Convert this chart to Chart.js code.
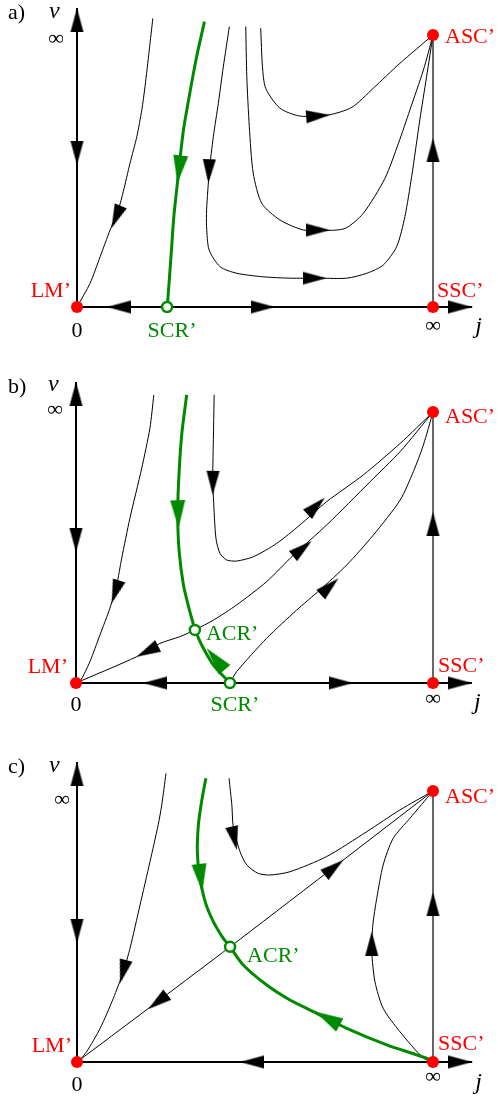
<!DOCTYPE html>
<html lang="en">
<head>
<meta charset="UTF-8">
<title>Phase portraits a) b) c)</title>
<script src="https://cdn.jsdelivr.net/npm/chart.js"></script>
<style>
  body { margin: 0; background: #fff; }
  .page { position: relative; width: 498px; height: 1100px; }
  .page canvas { position: absolute; left: 0; }
</style>
</head>
<body>
<div class="page">
  <canvas id="panelA" width="498" height="370" style="top:0"></canvas>
  <canvas id="panelB" width="498" height="370" style="top:370px"></canvas>
  <canvas id="panelC" width="498" height="360" style="top:740px"></canvas>
</div>
<script>
// compactified coordinates: j and v mapped to [0, 1], 1 means infinity

// ---- panel a ----
const aAxisX = 1.110, aAxisY = 1.099;
const aLeft = [[0.213,1.061],[0.203,0.945],[0.191,0.810],[0.182,0.724],[0.168,0.626],[0.149,0.529],[0.130,0.424],[0.116,0.357],[0.093,0.283],[0.065,0.185],[0.037,0.088],[0,0]];
const aSep = [[0.358,1.049],[0.336,0.920],[0.315,0.773],[0.299,0.651],[0.289,0.540],[0.282,0.455],[0.272,0.332],[0.264,0.185],[0.254,0.007],[0.253,0]];
const aLow = [[0.428,1.031],[0.411,0.883],[0.397,0.749],[0.383,0.626],[0.372,0.504],[0.364,0.357],[0.364,0.295],[0.371,0.210],[0.402,0.148],[0.449,0.124],[0.523,0.111],[0.598,0.106],[0.683,0.106],[0.758,0.106],[0.814,0.124],[0.860,0.154],[0.898,0.222],[0.921,0.332],[0.940,0.479],[0.963,0.688],[0.982,0.847],[1,1]];
const aMid = [[0.474,1.031],[0.477,0.847],[0.484,0.663],[0.495,0.492],[0.519,0.381],[0.570,0.320],[0.636,0.283],[0.692,0.281],[0.753,0.289],[0.804,0.344],[0.865,0.473],[0.903,0.602],[0.935,0.724],[0.973,0.871],[1,1]];
const aHigh = [[0.516,1.025],[0.521,0.883],[0.530,0.804],[0.570,0.731],[0.626,0.702],[0.706,0.706],[0.772,0.734],[0.832,0.804],[0.907,0.896],[1,1]];
// arrowheads: tip x, tip y, back x, back y
const aArrows = [[0,1.099,0,1.011],[0,0.522,0,0.610],[1.110,0,1.043,0],[0.084,0,0.152,0],[0.556,0,0.489,0],[1,0.621,1,0.533],
  [0.097,0.290,0.124,0.375],[0.369,0.455,0.372,0.548],[0.701,0.106,0.635,0.106],[0.711,0.283,0.643,0.283],[0.711,0.706,0.643,0.699]];
const aGreenArrows = [[0.282,0.455,0.291,0.551]];
const aSaddles = [[0,0],[1,0],[1,1]];
const aCritical = [[0.253,0]];

// ---- panel b ----
const bAxisX = 1.109, bAxisY = 1.111;
const bLeft = [[0.218,1.063],[0.207,0.940],[0.184,0.792],[0.151,0.608],[0.128,0.460],[0.114,0.362],[0.095,0.276],[0.067,0.177],[0.039,0.079],[0.011,0.005],[0,0]];
const bSep = [[0.310,1.063],[0.296,0.915],[0.287,0.731],[0.285,0.608],[0.289,0.485],[0.301,0.362],[0.319,0.263],[0.333,0.196]];
const bSepLow = [[0.333,0.196],[0.352,0.140],[0.385,0.066],[0.431,0]];
const bUpper = [[0.387,1.063],[0.385,0.915],[0.383,0.755],[0.385,0.682],[0.392,0.534],[0.403,0.479],[0.422,0.454],[0.450,0.450],[0.497,0.466],[0.562,0.515],[0.627,0.583],[0.702,0.669],[0.805,0.768],[0.908,0.884],[1,1]];
const bManifold = [[0,0],[0.170,0.097],[0.235,0.146],[0.291,0.171],[0.333,0.196],[0.385,0.232],[0.450,0.288],[0.534,0.374],[0.609,0.472],[0.702,0.583],[0.824,0.743],[0.908,0.854],[1,1]];
const bLower = [[0.431,0],[0.450,0.042],[0.534,0.165],[0.618,0.269],[0.683,0.343],[0.758,0.435],[0.833,0.546],[0.908,0.675],[0.945,0.780],[0.973,0.878],[1,1]];
const bArrows = [[0,1.111,0,1.022],[0,0.483,0,0.576],[1.109,0,1.042,0],[0.188,0,0.255,0],[0.776,0,0.710,0],[1,0.631,1,0.540],
  [0.100,0.294,0.123,0.387],[0.383,0.694,0.384,0.786],[0.697,0.684,0.641,0.613],[0.170,0.097,0.235,0.140],[0.660,0.524,0.605,0.465],[0.735,0.386,0.678,0.317]];
const bGreenArrows = [[0.287,0.571,0.285,0.672],[0.366,0.128,0.413,0.054]];
const bSaddles = [[0,0],[1,0],[1,1]];
const bCritical = [[0.431,0],[0.333,0.196]];

// ---- panel c ----
const cAxisX = 1.110, cAxisY = 1.107;
const cLeft = [[0.250,1.065],[0.238,0.948],[0.228,0.875],[0.205,0.739],[0.177,0.579],[0.149,0.420],[0.130,0.333],[0.102,0.235],[0.065,0.124],[0.027,0.038],[0.008,0.007],[0,0]];
const cSep = [[0.362,1.047],[0.350,0.961],[0.341,0.875],[0.338,0.776],[0.344,0.690],[0.360,0.592],[0.383,0.518],[0.411,0.456],[0.430,0.425]];
const cSepLow = [[0.430,0.425],[0.467,0.358],[0.533,0.284],[0.598,0.229],[0.664,0.186],[0.758,0.124],[0.870,0.063],[0.982,0.014],[1,0]];
const cUpper = [[0.427,1.047],[0.435,0.948],[0.439,0.868],[0.458,0.776],[0.477,0.727],[0.509,0.696],[0.542,0.690],[0.598,0.702],[0.701,0.758],[0.814,0.850],[0.907,0.930],[1,1]];
const cDiag = [[0,0],[0.430,0.425],[1,1]];
const cRight = [[1,0],[0.973,0.014],[0.907,0.112],[0.860,0.198],[0.837,0.296],[0.828,0.407],[0.831,0.506],[0.842,0.604],[0.860,0.727],[0.888,0.825],[0.935,0.899],[1,1]];
const cArrows = [[0,1.107,0,1.018],[0,0.439,0,0.530],[1.110,0,1.043,0],[0.458,0,0.524,0],[1,0.627,1,0.536],
  [0.121,0.290,0.138,0.376],[0.449,0.782,0.434,0.871],[0.200,0.195,0.265,0.260],[0.748,0.745,0.685,0.680],[0.828,0.481,0.828,0.391]];
const cGreenArrows = [[0.352,0.628,0.343,0.727],[0.669,0.186,0.733,0.140]];
const cSaddles = [[0,0],[1,0],[1,1]];
const cCritical = [[0.430,0.425]];

const RED = '#ff0000';
const GREEN = '#008a00';
const FONT = '"Liberation Serif", "Times New Roman", serif';
const INSET = 8; // layout padding, larger than any point overflow

function pts(list) { return list.map(p => ({ x: p[0], y: p[1] })); }
function heads(list) { return list.map(a => ({ x: a[0], y: a[1], bx: a[2], by: a[3] })); }

// arrowhead image with its tip in the centre, pointing right
function arrowImage(len, half, color) {
  const c = document.createElement('canvas');
  c.width = len * 2;
  c.height = half * 2 + 2;
  const g = c.getContext('2d');
  g.fillStyle = color;
  g.beginPath();
  g.moveTo(0, 1);
  g.lineTo(len, half + 1);
  g.lineTo(0, half * 2 + 1);
  g.closePath();
  g.fill();
  return c;
}
const blackHead = arrowImage(24, 6.5, '#000');
const greenHead = arrowImage(28, 7.5, GREEN);

function arrowAngle(ctx) {
  const r = ctx.raw;
  if (!r) return 0;
  const sx = ctx.chart.scales.x, sy = ctx.chart.scales.y;
  const dx = sx.getPixelForValue(r.x) - sx.getPixelForValue(r.bx);
  const dy = sy.getPixelForValue(r.y) - sy.getPixelForValue(r.by);
  return Math.atan2(dy, dx) * 180 / Math.PI;
}

function drawPanel(id, frame, p) {
  const canvas = document.getElementById(id);
  const W = canvas.width, H = canvas.height;
  const ds = [];
  p.curves.forEach(c => ds.push({ data: pts(c), showLine: true, borderColor: '#000', borderWidth: 1,
    pointRadius: 0, tension: 0.25, order: 6 }));
  ds.push({ data: pts([[0, p.axisY], [0, 0], [p.axisX, 0]]), showLine: true, borderColor: '#000',
    borderWidth: 2, pointRadius: 0, tension: 0, order: 5 });
  ds.push({ data: pts([[1, 0], [1, 1]]), showLine: true, borderColor: '#000', borderWidth: 1.2,
    pointRadius: 0, tension: 0, order: 5 });
  p.green.forEach(c => ds.push({ data: pts(c), showLine: true, borderColor: GREEN, borderWidth: 3,
    pointRadius: 0, tension: 0.25, order: 4 }));
  ds.push({ data: heads(p.arrows), pointStyle: blackHead, pointRotation: arrowAngle, pointRadius: 5, order: 3 });
  ds.push({ data: heads(p.greenArrows), pointStyle: greenHead, pointRotation: arrowAngle, pointRadius: 5, order: 2 });
  ds.push({ data: pts(p.critical), pointStyle: 'circle', pointRadius: 5, pointBorderWidth: 2.5,
    pointBorderColor: GREEN, pointBackgroundColor: '#fff', order: 1 });
  ds.push({ data: pts(p.saddles), pointStyle: 'circle', pointRadius: 6, pointBorderWidth: 0,
    pointBackgroundColor: RED, order: 0 });

  const textPlugin = {
    id: 'panelText',
    afterDatasetsDraw(chart) {
      const g = chart.ctx, sx = chart.scales.x, sy = chart.scales.y;
      p.labels.forEach(t => {
        g.save();
        g.font = (t.italic ? 'italic ' : '') + (t.size || 22) + 'px ' + FONT;
        g.fillStyle = t.color || '#000';
        g.textAlign = t.align || 'left';
        g.fillText(t.text, sx.getPixelForValue(t.at[0]) + t.dx, sy.getPixelForValue(t.at[1]) + t.dy);
        g.restore();
      });
    }
  };

  // chart area is the canvas minus INSET on every side
  const left = frame.ox - INSET, top = frame.oy - INSET;
  const aw = W - 2 * INSET, ah = H - 2 * INSET;
  new Chart(canvas, {
    type: 'scatter',
    data: { datasets: ds },
    options: {
      responsive: false,
      animation: false,
      events: [],
      clip: false,
      layout: { padding: INSET },
      plugins: { legend: { display: false }, tooltip: { enabled: false } },
      scales: {
        x: { type: 'linear', display: false, min: -left / frame.ux, max: (aw - left) / frame.ux },
        y: { type: 'linear', display: false, min: -(ah - top) / frame.uy, max: top / frame.uy }
      }
    },
    plugins: [textPlugin]
  });
}

drawPanel('panelA', { ox: 77, oy: 307, ux: 356, uy: 272 }, {
  axisX: aAxisX, axisY: aAxisY,
  curves: [aLeft, aLow, aMid, aHigh],
  green: [aSep],
  arrows: aArrows, greenArrows: aGreenArrows,
  saddles: aSaddles, critical: aCritical,
  labels: [
    { text: 'a)', at: [0, aAxisY], dx: -69, dy: 11 },
    { text: 'v', at: [0, aAxisY], dx: -28, dy: 10, italic: true, size: 24 },
    { text: '∞', at: [0, aAxisY], dx: -21, dy: 37, align: 'center' },
    { text: 'LM’', at: [0, 0], dx: -6, dy: -10, align: 'right', color: RED },
    { text: '0', at: [0, 0], dx: 0, dy: 30, align: 'center' },
    { text: 'SCR’', at: aCritical[0], dx: 5, dy: 30, align: 'center', color: GREEN },
    { text: 'SSC’', at: [1, 0], dx: 4, dy: -10, color: RED },
    { text: '∞', at: [1, 0], dx: 0, dy: 25, align: 'center' },
    { text: 'j', at: [aAxisX, 0], dx: 3, dy: 26, italic: true, size: 24 },
    { text: 'ASC’', at: [1, 1], dx: 12, dy: 8, color: RED }
  ]
});

drawPanel('panelB', { ox: 76, oy: 313, ux: 357, uy: 271 }, {
  axisX: bAxisX, axisY: bAxisY,
  curves: [bLeft, bUpper, bManifold, bLower],
  green: [bSep, bSepLow],
  arrows: bArrows, greenArrows: bGreenArrows,
  saddles: bSaddles, critical: bCritical,
  labels: [
    { text: 'b)', at: [0, bAxisY], dx: -68, dy: 11 },
    { text: 'v', at: [0, bAxisY], dx: -28, dy: 9, italic: true, size: 24 },
    { text: '∞', at: [0, bAxisY], dx: -21, dy: 34, align: 'center' },
    { text: 'LM’', at: [0, 0], dx: -8, dy: -10, align: 'right', color: RED },
    { text: '0', at: [0, 0], dx: 0, dy: 28, align: 'center' },
    { text: 'SCR’', at: bCritical[0], dx: 5, dy: 28, align: 'center', color: GREEN },
    { text: 'ACR’', at: bCritical[1], dx: 11, dy: 10, color: GREEN },
    { text: 'SSC’', at: [1, 0], dx: 5, dy: -11, color: RED },
    { text: '∞', at: [1, 0], dx: 0, dy: 22, align: 'center' },
    { text: 'j', at: [bAxisX, 0], dx: 2, dy: 26, italic: true, size: 24 },
    { text: 'ASC’', at: [1, 1], dx: 12, dy: 11, color: RED }
  ]
});

drawPanel('panelC', { ox: 77, oy: 322, ux: 356, uy: 271 }, {
  axisX: cAxisX, axisY: cAxisY,
  curves: [cLeft, cUpper, cDiag, cRight],
  green: [cSep, cSepLow],
  arrows: cArrows, greenArrows: cGreenArrows,
  saddles: cSaddles, critical: cCritical,
  labels: [
    { text: 'c)', at: [0, cAxisY], dx: -69, dy: 11 },
    { text: 'v', at: [0, cAxisY], dx: -28, dy: 10, italic: true, size: 24 },
    { text: '∞', at: [0, cAxisY], dx: -15, dy: 44, align: 'center' },
    { text: 'LM’', at: [0, 0], dx: -5, dy: -10, align: 'right', color: RED },
    { text: '0', at: [0, 0], dx: 0, dy: 29, align: 'center' },
    { text: 'ACR’', at: cCritical[0], dx: 17, dy: 15, color: GREEN },
    { text: 'SSC’', at: [1, 0], dx: 5, dy: -12, color: RED },
    { text: '∞', at: [1, 0], dx: 0, dy: 21, align: 'center' },
    { text: 'j', at: [cAxisX, 0], dx: 3, dy: 27, italic: true, size: 24 },
    { text: 'ASC’', at: [1, 1], dx: 12, dy: 12, color: RED }
  ]
});
</script>
</body>
</html>
